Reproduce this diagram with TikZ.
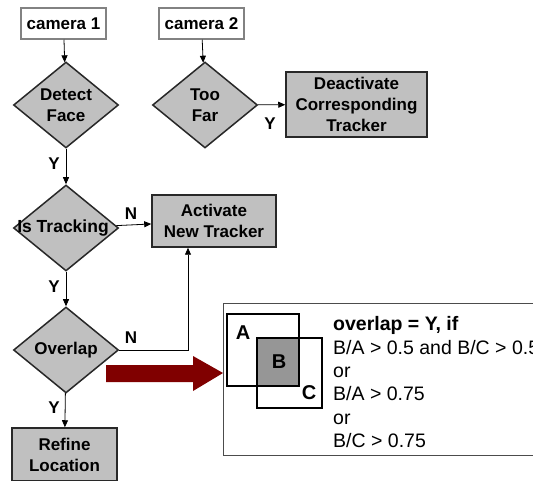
\documentclass[tikz,border=0pt]{standalone}
\usepackage{fontspec}
\setmainfont{Liberation Sans}
\usetikzlibrary{shapes.geometric,arrows.meta}
\definecolor{boxgray}{RGB}{192,192,192}
\definecolor{bgray}{RGB}{150,150,150}
\definecolor{camborder}{RGB}{130,130,130}
\definecolor{darkred}{RGB}{128,0,0}
\definecolor{edgedark}{RGB}{40,40,40}
\tikzset{
  flowfont/.style={font=\bfseries\fontsize{17}{21}\selectfont},
  cambox/.style={draw=camborder, line width=1.5pt, fill=white, minimum width=85pt, minimum height=31pt, inner sep=0pt, flowfont},
  procbox/.style={draw=edgedark, line width=1.5pt, fill=boxgray, inner sep=0pt, align=center, flowfont},
  dia/.style={diamond, draw=edgedark, line width=1.5pt, fill=boxgray, inner sep=0pt, minimum width=105pt, minimum height=86pt},
  diatext/.style={align=center, inner sep=0pt, flowfont},
  conn/.style={draw=black, line width=0.8pt, -{Triangle[length=7pt,width=6pt]}},
  lab/.style={inner sep=0pt, flowfont},
  cond/.style={anchor=base west, inner sep=0pt, font=\fontsize{19.5}{23}\selectfont},
  abc/.style={inner sep=0pt, font=\bfseries\fontsize{20}{24}\selectfont}
}
\begin{document}
\begin{tikzpicture}[x=1pt,y=-1pt]
\useasboundingbox (0,0) rectangle (533,481);
\clip (0,0) rectangle (533,481);
\fill[white] (0,0) rectangle (533,481);

% cameras
\node[cambox] (cam1) at (63.5,23.5) {camera 1};
\node[cambox] (cam2) at (201.5,23.5) {camera 2};

% diamonds
\node[dia] (detect) at (66,105) {};
\node[diatext] (detectt) at (66,105) {Detect\\Face};
\node[dia] (toofar) at (205,105) {};
\node[diatext] (toofart) at (205,105) {Too\\Far};
\node[dia] (istrack) at (66,228) {};
\node[diatext, font=\bfseries\fontsize{17.5}{21}\selectfont] (istrackt) at (63,228) {Is Tracking};
\node[dia] (overlap) at (66,350) {};
\node[diatext] (overlapt) at (66,350) {Overlap};

% process boxes
\node[procbox, minimum width=141pt, minimum height=65pt] (deact) at (356.5,104.5) {Deactivate\\Corresponding\\Tracker};
\node[procbox, minimum width=124pt, minimum height=52pt] (act) at (214,221) {Activate\\New Tracker};
\node[procbox, minimum width=105pt, minimum height=53pt] (refine) at (64.5,454.5) {Refine\\Location};

% connectors
\draw[conn] (cam1) -- (detect);
\draw[conn] (cam2) -- (toofar);
\draw[conn] (detect) -- (istrack);
\draw[conn] (istrack) -- (overlap);
\draw[conn] (overlap) -- (refine);
\draw[conn] (istrack) -- (act);
\draw[conn] (toofar) -- (deact);
\coordinate (bend) at (188,350);
\draw[conn] (overlap.east) -- (bend) -- (bend |- act.south);

% labels
\node[lab] (y1) at (54,164) {Y};
\node[lab] (y2) at (54,287) {Y};
\node[lab] (y3) at (54,408) {Y};
\node[lab] (y4) at (270,124) {Y};
\node[lab] (n1) at (131,214) {N};
\node[lab] (n2) at (131,338) {N};

% big red arrow
\fill[darkred] (106,365) -- (193,365) -- (193,356) -- (223,373) -- (193,391) -- (193,382) -- (106,382) -- cycle;

% explanation panel
\draw[draw=black!70, line width=0.8pt] (223,303) rectangle (560,455);
\fill[bgray] (257,338) rectangle (299,386);
\draw[black, line width=1.5pt] (227,314) rectangle (299,386);
\draw[black, line width=1.5pt] (257,338) rectangle (322,408);
\node[abc] (la) at (243,333) {A};
\node[abc] (lb) at (279,362) {B};
\node[abc] (lc) at (309,393) {C};

\node[cond, font=\bfseries\fontsize{19.5}{23}\selectfont] (t1) at (333,330) {overlap = Y, if};
\node[cond] (t2) at (333,354) {B/A > 0.5 and B/C > 0.5};
\node[cond] (t3) at (333,377) {or};
\node[cond] (t4) at (333,400) {B/A > 0.75};
\node[cond] (t5) at (333,424) {or};
\node[cond] (t6) at (333,447) {B/C > 0.75};
\end{tikzpicture}
\end{document}
